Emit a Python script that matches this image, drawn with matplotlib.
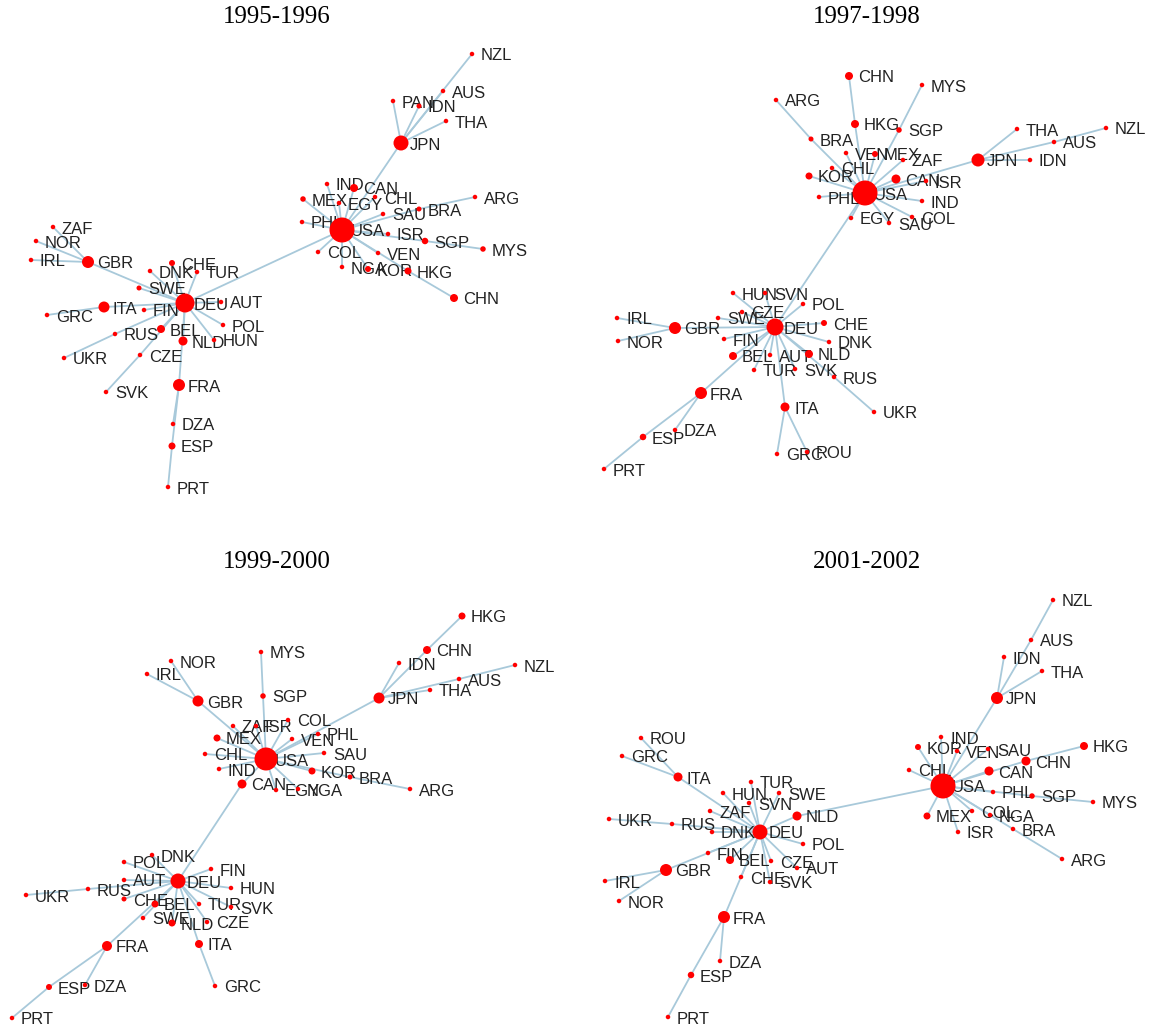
import matplotlib
matplotlib.use("Agg")
import matplotlib.pyplot as plt

# trade networks, one per period: node, layout x, layout y, linked node, node strength
titles = ["1995-1996", "1997-1998", "1999-2000", "2001-2002"]

n95 = ["USA", "JPN", "NZL", "AUS", "PAN", "IDN", "THA", "IND", "CAN", "CHL", "MEX", "EGY",
       "SAU", "BRA", "ARG", "PHL", "ISR", "SGP", "MYS", "COL", "VEN", "NGA", "KOR", "HKG",
       "CHN", "DEU", "GBR", "ZAF", "NOR", "IRL", "CHE", "DNK", "TUR", "SWE", "AUT", "ITA",
       "FIN", "GRC", "POL", "RUS", "BEL", "NLD", "HUN", "UKR", "CZE", "SVK", "FRA", "DZA",
       "ESP", "PRT"]
x95 = [342, 401, 472, 443, 393, 419, 446, 327, 354, 375, 303, 339,
       383, 419, 475, 302, 388, 425, 483, 318, 378, 342, 368, 408,
       454, 185, 88, 53, 36, 31, 172, 150, 197, 139, 221, 104,
       144, 47, 223, 115, 161, 183, 214, 64, 140, 106, 179, 173,
       172, 168]
y95 = [230, 143, 54, 91, 101, 106, 121, 184, 188, 197, 199, 203,
       214, 209, 197, 222, 234, 241, 249, 252, 253, 267, 269, 271,
       298, 303, 262, 227, 241, 260, 263, 271, 272, 288, 302, 307,
       310, 315, 325, 334, 329, 341, 340, 358, 355, 392, 385, 424,
       446, 487]
l95 = [None, "USA", "JPN", "JPN", "JPN", "JPN", "JPN", "USA", "USA", "USA", "USA", "USA",
       "USA", "USA", "BRA", "USA", "USA", "USA", "SGP", "USA", "USA", "USA", "USA", "USA",
       "HKG", "USA", "DEU", "GBR", "GBR", "GBR", "DEU", "DEU", "DEU", "DEU", "DEU", "DEU",
       "DEU", "ITA", "DEU", "DEU", "DEU", "DEU", "DEU", "RUS", "DEU", "CZE", "DEU", "FRA",
       "FRA", "ESP"]
s95 = [25, 15, 4.5, 4.5, 4.5, 5, 4.5, 4.5, 8, 4.5, 5.5, 4.5,
       4.5, 5, 4.5, 4.5, 4.5, 6.5, 5.5, 4.5, 4.5, 4.5, 6, 7,
       8, 19, 12, 4.5, 4.5, 4.5, 6, 4.5, 4.5, 5, 4.5, 11,
       4.5, 4.5, 4.5, 4.5, 8, 9, 4.5, 4.5, 4.5, 4.5, 12, 4.5,
       7, 4.5]

n97 = ["USA", "CHN", "HKG", "ARG", "BRA", "VEN", "MEX", "CHL", "KOR", "PHL", "EGY", "MYS",
       "SGP", "ZAF", "CAN", "ISR", "IND", "COL", "SAU", "JPN", "THA", "AUS", "NZL", "IDN",
       "DEU", "HUN", "SVN", "POL", "CZE", "IRL", "SWE", "GBR", "CHE", "NOR", "FIN", "DNK",
       "BEL", "AUT", "NLD", "TUR", "SVK", "RUS", "UKR", "FRA", "ITA", "DZA", "ESP", "GRC",
       "ROU", "PRT"]
x97 = [865, 849, 855, 776, 811, 846, 875, 832, 809, 819, 851, 922,
       899, 903, 896, 926, 922, 912, 889, 978, 1017, 1054, 1106, 1030,
       775, 733, 765, 803, 742, 617, 718, 675, 824, 618, 724, 829,
       733, 770, 809, 754, 795, 834, 874, 701, 785, 675, 643, 777,
       807, 604]
y97 = [193, 76, 124, 100, 139, 153, 154, 168, 176, 197, 218, 85,
       130, 160, 179, 181, 201, 217, 223, 160, 129, 142, 128, 160,
       327, 293, 293, 304, 312, 318, 318, 328, 323, 341, 339, 342,
       356, 355, 354, 370, 369, 377, 412, 393, 407, 430, 437, 454,
       452, 469]
l97 = [None, "HKG", "USA", "BRA", "USA", "USA", "USA", "USA", "USA", "USA", "USA", "SGP",
       "USA", "USA", "USA", "USA", "USA", "USA", "USA", "USA", "JPN", "JPN", "AUS", "JPN",
       "USA", "DEU", "DEU", "DEU", "DEU", "GBR", "DEU", "DEU", "DEU", "GBR", "DEU", "DEU",
       "DEU", "DEU", "DEU", "DEU", "DEU", "DEU", "RUS", "DEU", "DEU", "FRA", "FRA", "ITA",
       "ITA", "ESP"]
s97 = [25, 8, 8, 4.5, 5, 4.5, 6, 4.5, 7, 4.5, 4.5, 4.5,
       5.5, 4.5, 9, 4.5, 4.5, 4.5, 4.5, 13, 4.5, 4.5, 4.5, 4.5,
       17, 4.5, 4.5, 4.5, 4.5, 4.5, 4.5, 12, 6, 4.5, 4.5, 4.5,
       8, 4.5, 8, 4.5, 4.5, 4.5, 4.5, 12, 9, 4.5, 6.5, 4.5,
       4.5, 4.5]

n99 = ["USA", "NOR", "IRL", "MYS", "GBR", "SGP", "ZAF", "ISR", "MEX", "CHL", "IND", "CAN",
       "EGY", "HKG", "CHN", "IDN", "NZL", "AUS", "THA", "JPN", "COL", "PHL", "VEN", "SAU",
       "KOR", "BRA", "ARG", "NGA", "DEU", "DNK", "POL", "FIN", "AUT", "HUN", "RUS", "UKR",
       "CHE", "BEL", "TUR", "SVK", "SWE", "NLD", "CZE", "FRA", "ITA", "GRC", "ESP", "DZA",
       "PRT"]
x99 = [266, 171, 147, 261, 198, 263, 233, 256, 217, 205, 219, 242,
       276, 462, 427, 399, 515, 459, 430, 379, 288, 318, 292, 324,
       312, 350, 410, 298, 178, 152, 124, 211, 124, 231, 88, 26,
       124, 155, 199, 231, 143, 172, 207, 107, 199, 215, 49, 85,
       12]
y99 = [759, 661, 674, 652, 701, 696, 726, 726, 738, 754, 769, 784,
       790, 616, 650, 663, 665, 679, 690, 698, 720, 734, 739, 753,
       771, 777, 789, 789, 881, 855, 862, 869, 880, 888, 889, 895,
       899, 904, 904, 907, 918, 923, 922, 946, 944, 986, 987, 985,
       1018]
l99 = [None, "GBR", "GBR", "SGP", "USA", "USA", "USA", "USA", "USA", "USA", "USA", "USA",
       "USA", "CHN", "JPN", "JPN", "AUS", "JPN", "JPN", "USA", "USA", "USA", "USA", "USA",
       "USA", "USA", "BRA", "USA", "CAN", "DEU", "DEU", "DEU", "DEU", "DEU", "DEU", "RUS",
       "DEU", "DEU", "DEU", "DEU", "DEU", "DEU", "DEU", "DEU", "DEU", "ITA", "FRA", "FRA",
       "ESP"]
s99 = [23, 4.5, 4.5, 4.5, 11, 5.5, 4.5, 4.5, 7, 4.5, 4.5, 9,
       4.5, 7, 8, 4.5, 4.5, 4.5, 4.5, 11, 4.5, 4.5, 4.5, 4.5,
       7, 5, 4.5, 4.5, 15, 4.5, 4.5, 4.5, 4.5, 4.5, 4.5, 4.5,
       5, 7, 4.5, 4.5, 4.5, 7, 4.5, 10, 8, 4.5, 6, 4.5,
       4.5]

n01 = ["USA", "NZL", "AUS", "IDN", "THA", "JPN", "IND", "KOR", "VEN", "SAU", "HKG", "CHN",
       "CAN", "CHL", "PHL", "SGP", "MYS", "MEX", "COL", "NGA", "ISR", "BRA", "ARG", "NLD",
       "DEU", "ROU", "GRC", "ITA", "TUR", "HUN", "SWE", "SVN", "ZAF", "UKR", "RUS", "DNK",
       "POL", "FIN", "BEL", "CZE", "GBR", "AUT", "CHE", "SVK", "IRL", "NOR", "FRA", "DZA",
       "ESP", "PRT"]
x01 = [943, 1053, 1031, 1004, 1042, 997, 941, 918, 957, 988, 1084, 1026,
       989, 909, 993, 1032, 1093, 927, 972, 990, 958, 1013, 1062, 797,
       760, 641, 622, 678, 751, 723, 779, 749, 710, 609, 672, 712,
       803, 708, 730, 771, 666, 797, 741, 770, 605, 619, 724, 720,
       691, 668]
y01 = [786, 600, 640, 657, 671, 698, 737, 747, 751, 749, 746, 761,
       771, 770, 792, 796, 802, 816, 811, 815, 832, 829, 859, 816,
       832, 738, 756, 777, 782, 793, 793, 803, 811, 819, 824, 832,
       844, 853, 860, 861, 870, 868, 877, 882, 881, 901, 917, 961,
       975, 1017]
l01 = [None, "AUS", "JPN", "JPN", "JPN", "USA", "USA", "USA", "USA", "USA", "CHN", "USA",
       "USA", "USA", "USA", "USA", "SGP", "USA", "USA", "USA", "USA", "USA", "BRA", "USA",
       "NLD", "ITA", "ITA", "DEU", "DEU", "DEU", "DEU", "DEU", "DEU", "RUS", "DEU", "DEU",
       "DEU", "DEU", "DEU", "DEU", "DEU", "DEU", "DEU", "DEU", "GBR", "GBR", "DEU", "FRA",
       "FRA", "ESP"]
s01 = [25, 4.5, 4.5, 4.5, 4.5, 12, 4.5, 6, 4.5, 4.5, 8, 9,
       9, 4.5, 4.5, 5.5, 4.5, 7, 4.5, 4.5, 4.5, 4.5, 4.5, 9,
       15, 4.5, 4.5, 9, 4.5, 4.5, 4.5, 4.5, 4.5, 4.5, 4.5, 4.5,
       4.5, 4.5, 8, 4.5, 12, 4.5, 4.5, 4.5, 4.5, 4.5, 12, 4.5,
       6.5, 4.5]

panels = [(n95, x95, y95, l95, s95), (n97, x97, y97, l97, s97),
          (n99, x99, y99, l99, s99), (n01, x01, y01, l01, s01)]

W, H = 1151, 1036
fig = plt.figure(figsize=(W / 100, H / 100), dpi=100)
fig.patch.set_facecolor("white")

edge_col = "#a8c9da"
node_col = "#ff0000"
text_col = "#222222"

for k, (names, xs, ys, links, sizes) in enumerate(panels):
    col, row = k % 2, k // 2
    ax = fig.add_axes([col * 0.5, 0.5 - row * 0.5, 0.5, 0.5])
    x0, y0 = col * W / 2, row * H / 2
    ax.set_xlim(x0, x0 + W / 2)
    ax.set_ylim(y0 + H / 2, y0)
    ax.axis("off")

    pos = {n: (x, y) for n, x, y in zip(names, xs, ys)}
    for n, l in zip(names, links):
        if l is None:
            continue
        ax.plot([pos[n][0], pos[l][0]], [pos[n][1], pos[l][1]],
                color=edge_col, lw=1.3, zorder=1, solid_capstyle="round")

    for n, x, y in zip(names, xs, ys):
        ax.text(x + 9, y + 2, n, fontsize=12, family="Liberation Sans",
                color=text_col, ha="left", va="center", zorder=2, clip_on=False)

    ax.scatter(xs, ys, s=[(d * 0.72) ** 2 for d in sizes], c=node_col,
               linewidths=0, zorder=3, clip_on=False)

    ty = 17 if row == 0 else 44
    tx = 277 if col == 0 else 291
    ax.text(x0 + tx, y0 + ty, titles[k], fontsize=18, family="Liberation Serif",
            color="black", ha="center", va="center")

fig.savefig("out.png", dpi=100, facecolor="white")
